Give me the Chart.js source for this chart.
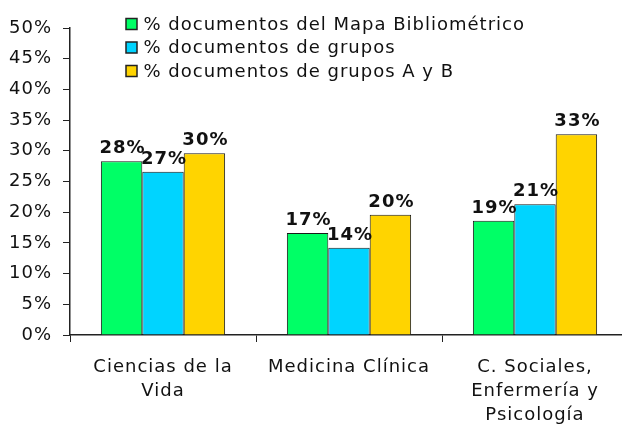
<!DOCTYPE html>
<html><head><meta charset="utf-8">
<script src="https://cdn.jsdelivr.net/npm/chart.js@4"></script>
<style>html,body{margin:0;padding:0;overflow:hidden;background:#fff;width:622px;height:425px}canvas{display:block}</style>
</head><body>
<canvas id="c" width="628" height="425" style="width:628px;height:425px"></canvas>
<script>
const categories = [["Ciencias de la","Vida"],["Medicina Clínica"],["C. Sociales,","Enfermería y","Psicología"]];
const seriesNames = ["% documentos del Mapa Bibliométrico","% documentos de grupos","% documentos de grupos A y B"];
const mapaValues = [28.3, 16.6, 18.6];
const gruposValues = [26.6, 14.2, 21.3];
const gruposABValues = [29.6, 19.6, 32.7];
const yMin = 0, yMax = 50, yStep = 5;

const FONT = '"DejaVu Sans", Verdana, sans-serif';
const colors = ['#00FF66', '#00D4FF', '#FFD400'];

const spacing = {
  id: 'spacing',
  beforeLayout(c){ c.ctx.letterSpacing = '1px'; },
  beforeDraw(c){ c.ctx.letterSpacing = '1px'; }
};

const legendPlugin = {
  id: 'customLegend',
  afterDraw(c){
    const ctx = c.ctx;
    ctx.save();
    ctx.letterSpacing = '1px';
    ctx.font = '18px ' + FONT;
    ctx.textBaseline = 'middle';
    ctx.textAlign = 'left';
    c.data.datasets.forEach((ds, i) => {
      const y = 24 + i * 23.5;
      ctx.fillStyle = ds.backgroundColor;
      ctx.fillRect(126, y - 5.5, 11, 11);
      ctx.strokeStyle = '#222';
      ctx.lineWidth = 1.5;
      ctx.strokeRect(126, y - 5.5, 11, 11);
      ctx.fillStyle = '#111';
      ctx.fillText(ds.label, 143.5, y + 1);
    });
    ctx.restore();
  }
};

const valueLabels = {
  id: 'valueLabels',
  afterDatasetsDraw(c){
    const ctx = c.ctx;
    ctx.save();
    ctx.letterSpacing = '1px';
    ctx.font = 'bold 18px ' + FONT;
    ctx.fillStyle = '#111';
    ctx.textAlign = 'center';
    ctx.textBaseline = 'alphabetic';
    c.data.datasets.forEach((ds, i) => {
      c.getDatasetMeta(i).data.forEach((el, j) => {
        ctx.fillText(Math.round(ds.data[j]) + '%', el.x + 1, el.y - 8);
      });
    });
    ctx.restore();
  }
};

new Chart(document.getElementById('c'), {
  type: 'bar',
  data: {
    labels: categories,
    datasets: [
      { label: seriesNames[0], data: mapaValues, backgroundColor: colors[0] },
      { label: seriesNames[1], data: gruposValues, backgroundColor: colors[1] },
      { label: seriesNames[2], data: gruposABValues, backgroundColor: colors[2] }
    ]
  },
  options: {
    responsive: false,
    animation: false,
    devicePixelRatio: 1,
    layout: { padding: { top: 28, right: 0, bottom: 0, left: 0 } },
    datasets: { bar: { borderColor: '#1a1a1a', borderWidth: 1, categoryPercentage: 0.668, barPercentage: 1 } },
    plugins: { legend: { display: false }, tooltip: { enabled: false } },
    scales: {
      x: {
        grid: { display: true, drawOnChartArea: false, drawTicks: true, tickLength: 7, color: '#222', offset: true },
        border: { display: true, color: '#222', width: 1.5 },
        ticks: { color: '#111', font: { family: FONT, size: 18, lineHeight: 1.35 }, padding: 13, maxRotation: 0, autoSkip: false },
        afterFit(s){ s.height = 90; }
      },
      y: {
        min: yMin, max: yMax,
        grid: { display: true, drawOnChartArea: false, drawTicks: true, tickLength: 7, color: '#222' },
        border: { display: true, color: '#222', width: 1.5 },
        ticks: { stepSize: yStep, color: '#111', font: { family: FONT, size: 18 }, padding: 11, callback: v => v + '%' },
        afterFit(s){ s.width = 70; }
      }
    }
  },
  plugins: [spacing, legendPlugin, valueLabels]
});
</script>
</body></html>
